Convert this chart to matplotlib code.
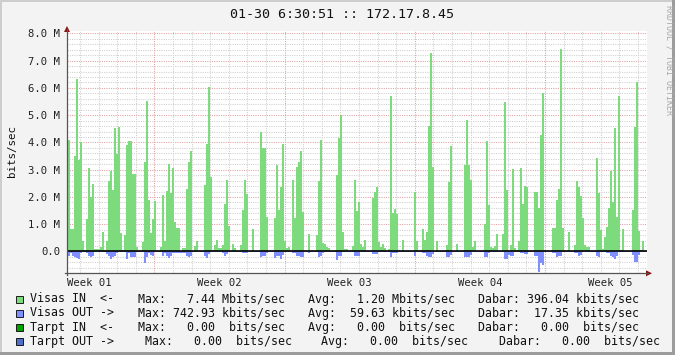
import matplotlib
matplotlib.use("Agg")
import matplotlib.pyplot as plt
from matplotlib.patches import Rectangle, Polygon
from matplotlib.lines import Line2D
import numpy as np

# ---------------- data (Mbit/s) ----------------
title = "01-30 6:30:51 :: 172.17.8.45"
week_labels = ["Week 01", "Week 02", "Week 03", "Week 04", "Week 05"]
ytick_vals = [0, 1, 2, 3, 4, 5, 6, 7, 8]
ytick_labels = ["0.0", "1.0 M", "2.0 M", "3.0 M", "4.0 M", "5.0 M", "6.0 M", "7.0 M", "8.0 M"]

# sampling: days relative to left edge of the graph window
first_sample_day = -0.054
sample_days = 0.1075
first_week_start_day = -2.302   # start of "Week 01"

visas_in = np.array([
    0.42, 4.09, 0.82, 0.82, 3.5, 6.34, 3.35, 4.0, 0.4, 0.05,
    1.2, 3.06, 2.0, 2.47, 0.1, 0.1, 0.1, 0.17, 0.7, 0.05,
    0.37, 2.6, 2.94, 2.25, 4.53, 3.57, 4.55, 0.68, 0.05, 0.61,
    3.9, 4.06, 4.06, 2.86, 2.84, 0.17, 0.02, 0.02, 0.34, 3.3,
    5.53, 1.88, 0.67, 1.2, 1.86, 0.02, 0.02, 0.17, 2.08, 0.37,
    2.23, 3.2, 2.15, 3.06, 1.1, 0.86, 0.86, 0.02, 0.12, 0.12,
    2.3, 3.28, 3.67, 0.02, 0.2, 0.37, 0.02, 0.02, 0.02, 2.45,
    3.96, 6.02, 2.74, 0.05, 0.24, 0.42, 0.12, 0.12, 0.24, 1.74,
    2.62, 0.93, 0.02, 0.27, 0.12, 0.02, 0.02, 0.24, 1.52, 2.64,
    2.1, 0.02, 0.02, 0.81, 0.02, 0.02, 0.02, 4.38, 3.79, 3.79,
    1.27, 0.03, 0.03, 0.03, 1.22, 3.16, 1.52, 2.37, 3.94, 0.37,
    0.12, 0.17, 0.02, 2.64, 1.22, 3.1, 3.3, 3.67, 1.44, 0.02,
    0.02, 0.66, 0.02, 0.02, 0.02, 0.59, 2.57, 4.09, 0.32, 0.27,
    0.18, 0.12, 0.02, 0.02, 0.02, 2.81, 4.16, 4.99, 0.71, 0.1,
    0.1, 0.03, 0.03, 0.2, 2.62, 1.49,
    1.81, 0.27, 0.17, 0.42, 0.03, 0.03, 0.03, 1.98, 2.2, 2.35,
    0.34, 0.17, 0.27, 0.12, 0.03, 0.1, 5.7, 1.42, 1.57, 1.37,
    0.07, 0.02, 0.42, 0.02, 0.02, 0.02, 0.02, 0.02, 2.2, 0.39,
    0.02, 0.05, 0.81, 0.42, 0.71, 4.62, 7.28, 3.1, 0.02, 0.39,
    0.02, 0.02, 0.02, 0.02, 0.22, 2.54, 3.87, 0.02, 0.02, 0.29,
    0.02, 0.02, 0.02, 3.18, 4.84, 3.18, 2.62, 0.17, 0.39, 0.02,
    0.02, 0.02, 0.02, 1.0, 4.04, 1.71, 0.17, 0.12, 0.2, 0.64,
    0.02, 0.02, 0.66, 5.5, 2.25, 0.02, 0.22, 3.03, 0.12, 0.05,
    0.37, 3.08, 1.74, 2.4, 2.35, 0.02, 0.02, 0.02, 2.18, 2.2,
    1.59, 4.26, 5.8, 0.07, 0.02, 0.02, 0.02, 0.86, 0.88, 1.88,
    2.28, 7.44, 0.86, 0.02, 0.02, 0.71, 0.02, 0.02, 0.22, 2.57,
    2.37, 2.03, 1.22, 0.24, 0.17, 0.17, 0.02, 0.02, 0.02, 3.43,
    2.15, 0.78, 0.1, 0.54, 0.9, 1.61, 2.94, 1.83, 4.53, 1.25,
    5.7, 0.07, 0.81, 0.02, 0.02, 0.02, 0.02, 1.52, 4.57, 6.21,
    0.76, 0.05, 0.39, 0.02,
])

visas_out = np.array([
    0.02, 0.15, 0.07, 0.15, 0.22, 0.24, 0.27, 0.07, 0.02, 0.02,
    0.07, 0.15, 0.2, 0.15, 0.02, 0.02, 0.02, 0.02, 0.02, 0.02,
    0.1, 0.15, 0.27, 0.22, 0.15, 0.07, 0.02, 0.02, 0.02, 0.02,
    0.27, 0.07, 0.2, 0.2, 0.2, 0.02, 0.02, 0.02, 0.02, 0.42,
    0.2, 0.07, 0.12, 0.15, 0.02, 0.02, 0.02, 0.02, 0.17, 0.07,
    0.15, 0.24, 0.17, 0.07, 0.07, 0.04, 0.04, 0.04, 0.04, 0.04,
    0.15, 0.2, 0.15, 0.02, 0.02, 0.02, 0.02, 0.02, 0.02, 0.17,
    0.24, 0.1, 0.02, 0.02, 0.02, 0.02, 0.02, 0.02, 0.07, 0.17,
    0.1, 0.02, 0.02, 0.02, 0.02, 0.02, 0.02, 0.02, 0.07, 0.07,
    0.07, 0.02, 0.02, 0.02, 0.02, 0.02, 0.02, 0.2, 0.15, 0.15,
    0.07, 0.02, 0.02, 0.02, 0.24, 0.15, 0.15, 0.27, 0.12, 0.02,
    0.02, 0.02, 0.02, 0.07, 0.07, 0.15, 0.17, 0.2, 0.2, 0.02,
    0.02, 0.07, 0.02, 0.02, 0.02, 0.02, 0.22, 0.15, 0.07, 0.02,
    0.02, 0.02, 0.02, 0.02, 0.02, 0.32, 0.15, 0.15, 0.02, 0.02,
    0.02, 0.02, 0.02, 0.02, 0.17, 0.17,
    0.17, 0.02, 0.02, 0.02, 0.02, 0.02, 0.02, 0.1, 0.1, 0.1,
    0.02, 0.02, 0.02, 0.02, 0.02, 0.02, 0.2, 0.07, 0.07, 0.07,
    0.02, 0.02, 0.02, 0.02, 0.02, 0.02, 0.02, 0.02, 0.15, 0.02,
    0.02, 0.02, 0.07, 0.07, 0.17, 0.2, 0.2, 0.1, 0.02, 0.02,
    0.02, 0.02, 0.02, 0.02, 0.2, 0.2, 0.12, 0.02, 0.02, 0.02,
    0.02, 0.02, 0.02, 0.2, 0.2, 0.2, 0.12, 0.02, 0.02, 0.02,
    0.02, 0.02, 0.02, 0.2, 0.2, 0.07, 0.02, 0.02, 0.02, 0.02,
    0.02, 0.02, 0.02, 0.27, 0.27, 0.12, 0.15, 0.15, 0.02, 0.02,
    0.02, 0.07, 0.07, 0.1, 0.1, 0.02, 0.02, 0.02, 0.15, 0.15,
    0.743, 0.44, 0.49, 0.02, 0.02, 0.02, 0.02, 0.07, 0.07, 0.2,
    0.17, 0.15, 0.02, 0.02, 0.02, 0.02, 0.02, 0.02, 0.07, 0.07,
    0.17, 0.12, 0.02, 0.02, 0.02, 0.02, 0.02, 0.02, 0.02, 0.15,
    0.2, 0.02, 0.02, 0.02, 0.07, 0.07, 0.17, 0.22, 0.29, 0.15,
    0.02, 0.02, 0.02, 0.02, 0.02, 0.02, 0.02, 0.12, 0.37, 0.37,
    0.12, 0.02, 0.02, 0.02,
])

legend_names = ["Visas IN  <-", "Visas OUT ->", "Tarpt IN  <-", "Tarpt OUT ->"]
legend_max = ["7.44 Mbits/sec", "742.93 kbits/sec", "0.00  bits/sec", "0.00  bits/sec"]
legend_avg = ["1.20 Mbits/sec", "59.63 kbits/sec", "0.00  bits/sec", "0.00  bits/sec"]
legend_dabar = ["396.04 kbits/sec", "17.35 kbits/sec", "0.00  bits/sec", "0.00  bits/sec"]

# ---------------- style ----------------
W, H = 675, 355
BG = "#F3F3F3"
C_IN = "#7DDA7D"
C_OUT = "#7F8FFF"
legend_colors = [C_IN, C_OUT, "#00A000", "#4F6FC8"]
MONO = "DejaVu Sans Mono"

fig = plt.figure(figsize=(W / 100, H / 100), dpi=100, facecolor=BG)

def fx(x):
    return x / W

def fy(y):
    return 1 - y / H

# plot area in pixels
L, R, T, B = 67, 646.5, 30.7, 273.3
ax = fig.add_axes([fx(L), fy(B), fx(R) - fx(L), fy(T) - fy(B)])
ax.set_facecolor("white")
x_max = 31.15
ax.set_xlim(0, x_max)
ax.set_ylim(-0.8, 8.1)
for s in ax.spines.values():
    s.set_visible(False)

# grid
dot = (0, (1, 1.2))
for v in np.arange(-0.8, 8.01, 0.2):
    if abs(v - round(v)) < 1e-6:
        if round(v) != 0:
            ax.axhline(v, color="#E2A0A0", lw=0.75, ls=dot, zorder=1)
    else:
        ax.axhline(v, color="#CFCFCF", lw=0.75, ls=dot, zorder=1)
day = first_week_start_day
k = 0
while day < x_max:
    if day > 0:
        if k % 7 == 0:
            ax.axvline(day, color="#E2A0A0", lw=0.75, ls=dot, zorder=1)
        else:
            ax.axvline(day, color="#CFCFCF", lw=0.75, ls=dot, zorder=1)
    day += 1
    k += 1

# data
t = first_sample_day + np.arange(len(visas_in)) * sample_days
ax.bar(t, visas_in, width=sample_days, align="edge", color=C_IN, linewidth=0, zorder=2)
ax.bar(t, -visas_out, width=sample_days, align="edge", color=C_OUT, linewidth=0, zorder=2)
ax.axhline(0, color="black", lw=1.2, zorder=3)

# ticks / labels
ax.set_yticks(ytick_vals)
ax.set_yticklabels(ytick_labels, fontfamily=MONO, fontsize=7.6, color="#222222")
week_centers = [first_week_start_day + 3.5 + 7 * i for i in range(len(week_labels))]
ax.set_xticks(week_centers)
ax.set_xticklabels(week_labels, fontfamily=MONO, fontsize=7.6, color="#222222")
ax.tick_params(axis="y", length=0, pad=5)
ax.tick_params(axis="x", length=0, pad=3.5)

# axes lines with arrows
ax_col = "#555555"
fig.add_artist(Line2D([fx(L), fx(L)], [fy(B + 2), fy(29)], color=ax_col, lw=0.9))
fig.add_artist(Line2D([fx(L - 2), fx(648)], [fy(B), fy(B)], color=ax_col, lw=0.9))
arr = "#8B1010"
fig.add_artist(Polygon([[fx(L - 3), fy(32)], [fx(L + 3), fy(32)], [fx(L), fy(26)]],
                       closed=True, color=arr, lw=0))
fig.add_artist(Polygon([[fx(646), fy(B - 3)], [fx(646), fy(B + 3)], [fx(652), fy(B)]],
                       closed=True, color=arr, lw=0))

# title, axis label, watermark
fig.text(fx(341.5), fy(14), title, ha="center", va="center",
         fontfamily=MONO, fontsize=9.6, color="#111111")
fig.text(fx(12), fy(151), "bits/sec", rotation=90, ha="center", va="center",
         fontfamily=MONO, fontsize=7.8, color="#111111")
fig.text(fx(669.5), fy(60), "RRDTOOL / TOBI OETIKER", rotation=270, ha="center", va="center",
         fontfamily=MONO, fontsize=6, color="#A8A8A8")

# legend
row_y = [299, 313, 327, 341]
max_x = [137.7, 137.7, 137.7, 145]
avg_x = [307.5, 307.5, 307.5, 321]
dab_x = [477.7, 477.7, 477.7, 498.7]
kw = dict(va="center", ha="left", fontfamily=MONO, fontsize=8.4, color="#111111")
for i in range(4):
    yy = row_y[i]
    fig.add_artist(Rectangle((fx(15.5), fy(yy + 3.5)), fx(7), 7 / H,
                             facecolor=legend_colors[i], edgecolor="#000000", lw=0.6))
    fig.text(fx(30.2), fy(yy), legend_names[i], **kw)
    mv, mu = legend_max[i].split(" ", 1)
    av, au = legend_avg[i].split(" ", 1)
    dv, du = legend_dabar[i].split(" ", 1)
    fig.text(fx(max_x[i]), fy(yy), "Max:" + mv.rjust(7) + " " + mu, **kw)
    fig.text(fx(avg_x[i]), fy(yy), "Avg:" + av.rjust(7) + " " + au, **kw)
    fig.text(fx(dab_x[i]), fy(yy), "Dabar:" + dv.rjust(7) + " " + du, **kw)

# frame of the image (3D look)
fig.add_artist(Rectangle((0, fy(2)), 1, 2 / H, facecolor="#CDCDCD", lw=0))
fig.add_artist(Rectangle((0, 0), fx(2), 1, facecolor="#CDCDCD", lw=0))
fig.add_artist(Rectangle((0, 0), 1, 3 / H, facecolor="#9C9C9C", lw=0))
fig.add_artist(Rectangle((fx(672), 0), fx(3), 1, facecolor="#9C9C9C", lw=0))

fig.savefig("out.png", dpi=100, facecolor=BG)
